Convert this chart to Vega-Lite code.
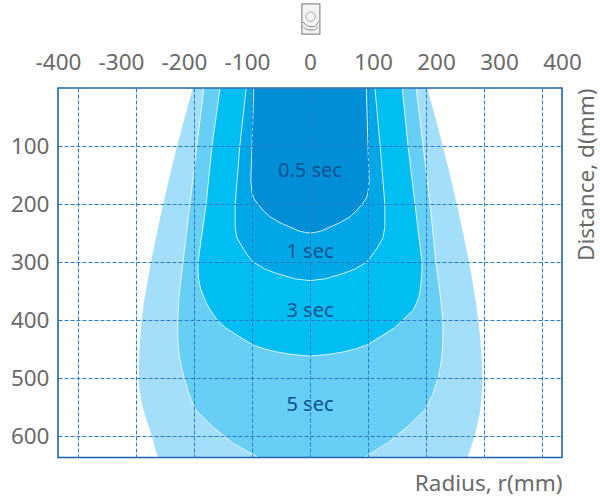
{
"$schema":"https://vega.github.io/schema/vega-lite/v6.json",
"width":504,"height":369.5,
"padding":{"left":58,"top":88,"right":38,"bottom":39.5},
"autosize":{"type":"none"},
"background":"white",
"config":{"view":{"stroke":null}},
"resolve":{"scale":{"x":"independent"},"axis":{"x":"independent"}},
"datasets":{
"zones":[
{"z":"a","d":0,"l":-202,"r":202},{"z":"a","d":100,"l":-229,"r":229},{"z":"a","d":200,"l":-253,"r":253},{"z":"a","d":300,"l":-274,"r":274},{"z":"a","d":400,"l":-290,"r":290},{"z":"a","d":500,"l":-295,"r":297},{"z":"a","d":543,"l":-290,"r":295},{"z":"a","d":602,"l":-272,"r":283},{"z":"a","d":636,"l":-262,"r":272},{"z":"a","d":650,"l":-255,"r":268},
{"z":"b","d":0,"l":-183,"r":183},{"z":"b","d":100,"l":-195,"r":195},{"z":"b","d":200,"l":-207,"r":207},{"z":"b","d":300,"l":-219,"r":217},{"z":"b","d":360,"l":-226,"r":225},{"z":"b","d":400,"l":-228,"r":229},{"z":"b","d":430,"l":-228,"r":229},{"z":"b","d":457,"l":-226,"r":228},{"z":"b","d":480,"l":-222,"r":225},{"z":"b","d":500,"l":-217,"r":221},{"z":"b","d":530,"l":-208,"r":211},{"z":"b","d":555,"l":-197,"r":198},{"z":"b","d":584,"l":-168,"r":168},{"z":"b","d":612,"l":-133,"r":134},{"z":"b","d":636,"l":-91,"r":95},{"z":"b","d":650,"l":-66,"r":70},
{"z":"c","d":0,"l":-155,"r":159},{"z":"c","d":100,"l":-169,"r":169},{"z":"c","d":200,"l":-179,"r":181},{"z":"c","d":300,"l":-193,"r":193},{"z":"c","d":314,"l":-193,"r":193},{"z":"c","d":331,"l":-192,"r":192},{"z":"c","d":348,"l":-188,"r":190},{"z":"c","d":360,"l":-183,"r":188},{"z":"c","d":372,"l":-178,"r":183},{"z":"c","d":383,"l":-172,"r":178},{"z":"c","d":400,"l":-160,"r":160},{"z":"c","d":414,"l":-145,"r":145},{"z":"c","d":429,"l":-121,"r":121},{"z":"c","d":443,"l":-98,"r":98},{"z":"c","d":450,"l":-78,"r":78},{"z":"c","d":455,"l":-57,"r":57},{"z":"c","d":459,"l":-34,"r":34},{"z":"c","d":461,"l":-14,"r":14},{"z":"c","d":462,"l":0,"r":0},
{"z":"d","d":0,"l":-110,"r":112},{"z":"d","d":100,"l":-121,"r":121},{"z":"d","d":200,"l":-129,"r":129},{"z":"d","d":240,"l":-129,"r":129},{"z":"d","d":258,"l":-126,"r":126},{"z":"d","d":274,"l":-117,"r":117},{"z":"d","d":288,"l":-108,"r":107},{"z":"d","d":300,"l":-98,"r":98},{"z":"d","d":312,"l":-78,"r":78},{"z":"d","d":319,"l":-60,"r":60},{"z":"d","d":324,"l":-43,"r":43},{"z":"d","d":329,"l":-26,"r":26},{"z":"d","d":331,"l":-9,"r":9},{"z":"d","d":332,"l":0,"r":0},
{"z":"e","d":0,"l":-97,"r":97},{"z":"e","d":100,"l":-100,"r":100},{"z":"e","d":159,"l":-102,"r":102},{"z":"e","d":181,"l":-100,"r":100},{"z":"e","d":190,"l":-97,"r":97},{"z":"e","d":200,"l":-90,"r":90},{"z":"e","d":212,"l":-80,"r":80},{"z":"e","d":222,"l":-69,"r":69},{"z":"e","d":232,"l":-52,"r":52},{"z":"e","d":240,"l":-34,"r":34},{"z":"e","d":247,"l":-18,"r":18},{"z":"e","d":249,"l":-8,"r":8},{"z":"e","d":250,"l":0,"r":0}
],
"labels":[{"t":"0.5 sec","x":0,"d":143},{"t":"1 sec","x":0,"d":283},{"t":"3 sec","x":0,"d":385},{"t":"5 sec","x":0,"d":547}],
"ticks":[{"v":-400},{"v":-300},{"v":-200},{"v":-100},{"v":0},{"v":100},{"v":200},{"v":300},{"v":400}],
"waves":[{"w":"1","x":-12,"d":-114},{"w":"1","x":-6,"d":-108},{"w":"1","x":0,"d":-106},{"w":"1","x":8,"d":-106},{"w":"1","x":14,"d":-114},
{"w":"2","x":-12,"d":-106},{"w":"2","x":-6,"d":-101},{"w":"2","x":0,"d":-100},{"w":"2","x":8,"d":-100},{"w":"2","x":14,"d":-106}]
},
"layer":[
{"data":{"name":"zones"},"transform":[{"filter":"datum.z=='a'"}],
 "mark":{"type":"area","orient":"horizontal","interpolate":"monotone","clip":true,"color":"#A3DEFB"},
 "encoding":{"y":{"field":"d","type":"quantitative","scale":{"domain":[0,637],"nice":false,"zero":false,"reverse":true},
   "axis":{"orient":"left","values":[100,200,300,400,500,600],"grid":true,"gridColor":"#2B7CCB","gridDash":[4,2],"gridWidth":1,"zindex":1,"domain":false,"ticks":false,"labelFontSize":22.5,"labelFont":"Noto Sans","labelColor":"#6A6A6A","labelPadding":9,
     "title":"Distance, d(mm)","titleFont":"Noto Sans","titleFontSize":22.5,"titleFontWeight":"normal","titleColor":"#6A6A6A","titleAngle":-90,"titleX":535.5,"titleY":0,"titleAlign":"right","titleBaseline":"alphabetic"}},
  "x":{"field":"l","type":"quantitative","scale":{"domain":[-434.5,434.5],"nice":false,"zero":false},
   "axis":{"orient":"top","values":[-400,-300,-200,-100,0,100,200,300,400],"grid":true,"gridColor":"#2B7CCB","gridDash":[4,2],"gridWidth":1,"zindex":1,"domain":false,"ticks":false,"labels":false,"title":null}},
  "x2":{"field":"r"}}},
{"data":{"name":"zones"},"transform":[{"filter":"datum.z=='b'"}],
 "mark":{"type":"area","orient":"horizontal","interpolate":"linear","clip":true,"color":"#67CEF6","stroke":"#FFFFFF","strokeWidth":1,"strokeOpacity":0.8},
 "encoding":{"y":{"field":"d","type":"quantitative"},"x":{"field":"l","type":"quantitative","scale":{"domain":[-434.5,434.5],"nice":false,"zero":false},"axis":null},"x2":{"field":"r"}}},
{"data":{"name":"zones"},"transform":[{"filter":"datum.z=='c'"}],
 "mark":{"type":"area","orient":"horizontal","interpolate":"linear","clip":true,"color":"#00BEF2","stroke":"#FFFFFF","strokeWidth":1,"strokeOpacity":0.8},
 "encoding":{"y":{"field":"d","type":"quantitative"},"x":{"field":"l","type":"quantitative","scale":{"domain":[-434.5,434.5],"nice":false,"zero":false},"axis":null},"x2":{"field":"r"}}},
{"data":{"name":"zones"},"transform":[{"filter":"datum.z=='d'"}],
 "mark":{"type":"area","orient":"horizontal","interpolate":"linear","clip":true,"color":"#00A7E6","stroke":"#FFFFFF","strokeWidth":1,"strokeOpacity":0.8},
 "encoding":{"y":{"field":"d","type":"quantitative"},"x":{"field":"l","type":"quantitative","scale":{"domain":[-434.5,434.5],"nice":false,"zero":false},"axis":null},"x2":{"field":"r"}}},
{"data":{"name":"zones"},"transform":[{"filter":"datum.z=='e'"}],
 "mark":{"type":"area","orient":"horizontal","interpolate":"linear","clip":true,"color":"#008FD6","stroke":"#FFFFFF","strokeWidth":1,"strokeOpacity":0.8},
 "encoding":{"y":{"field":"d","type":"quantitative"},"x":{"field":"l","type":"quantitative","scale":{"domain":[-434.5,434.5],"nice":false,"zero":false},"axis":null},"x2":{"field":"r"}}},
{"data":{"name":"labels"},
 "mark":{"type":"text","font":"Noto Sans","fontSize":20,"color":"#08528F"},
 "encoding":{"text":{"field":"t"},"y":{"field":"d","type":"quantitative"},"x":{"field":"x","type":"quantitative","scale":{"domain":[-434.5,434.5],"nice":false,"zero":false},"axis":null}}},
{"data":{"name":"ticks"},
 "mark":{"type":"rule","opacity":0},
 "encoding":{"x":{"field":"v","type":"quantitative","scale":{"domain":[-400,400],"nice":false,"zero":false},
   "axis":{"orient":"top","values":[-400,-300,-200,-100,0,100,200,300,400],"grid":false,"domain":false,"ticks":false,"labelFontSize":22.5,"labelFont":"Noto Sans","labelColor":"#6A6A6A","labelPadding":14,"labelOverlap":false,"labelBound":false,"labelFlush":false,"labelExpr":"format(datum.value,'d')=='0'?'0':(datum.value<0?'-':'')+abs(datum.value)",
     "title":"Radius, r(mm)","titleFont":"Noto Sans","titleFontSize":22.5,"titleFontWeight":"normal","titleColor":"#6A6A6A","titleX":504,"titleY":402,"titleAlign":"right","titleBaseline":"alphabetic","titleAnchor":"end"}}}},
{"data":{"values":[{"x0":-434.5,"x1":434.5,"y0":0,"y1":637}]},
 "mark":{"type":"rect","fillOpacity":0,"stroke":"#1F63B0","strokeWidth":1.6},
 "encoding":{"x":{"field":"x0","type":"quantitative","scale":{"domain":[-434.5,434.5],"nice":false,"zero":false},"axis":null},"x2":{"field":"x1"},"y":{"field":"y0","type":"quantitative"},"y2":{"field":"y1"}}},
{"data":{"values":[{"x0":-14,"x1":17,"y0":-145,"y1":-93}]},
 "mark":{"type":"rect","fill":"#F4F4F4","stroke":"#8C8C8C","strokeWidth":1.2},
 "encoding":{"x":{"field":"x0","type":"quantitative","scale":{"domain":[-434.5,434.5],"nice":false,"zero":false},"axis":null},"x2":{"field":"x1"},"y":{"field":"y0","type":"quantitative"},"y2":{"field":"y1"}}},
{"data":{"values":[{"x":1,"d":-123}]},
 "mark":{"type":"point","shape":"circle","size":90,"filled":false,"stroke":"#8C8C8C","strokeWidth":1},
 "encoding":{"x":{"field":"x","type":"quantitative","scale":{"domain":[-434.5,434.5],"nice":false,"zero":false},"axis":null},"y":{"field":"d","type":"quantitative"}}},
{"data":{"name":"waves"},
 "mark":{"type":"line","interpolate":"monotone","stroke":"#8C8C8C","strokeWidth":1},
 "encoding":{"detail":{"field":"w"},"x":{"field":"x","type":"quantitative","sort":null,"scale":{"domain":[-434.5,434.5],"nice":false,"zero":false},"axis":null},"y":{"field":"d","type":"quantitative"}}}
]
}
